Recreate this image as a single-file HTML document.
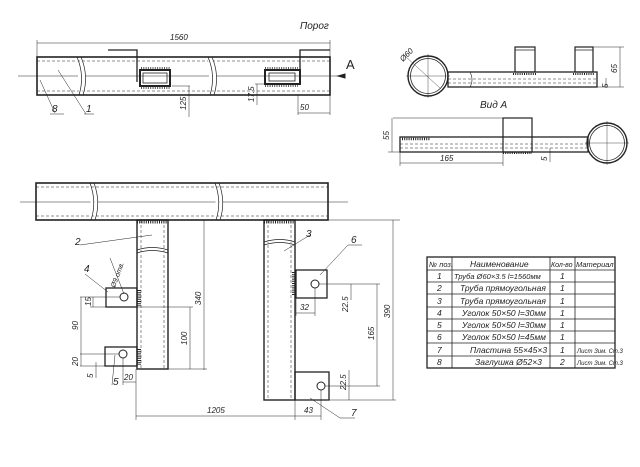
<!DOCTYPE html>
<html><head><meta charset="utf-8"><style>
html,body{margin:0;padding:0;background:#fff;}
svg{display:block;}
text{font-family:"Liberation Sans",sans-serif;font-style:italic;fill:#222;}
</style></head><body>
<svg width="640" height="467" viewBox="0 0 640 467" xmlns="http://www.w3.org/2000/svg">
<g stroke="#222" fill="none" stroke-width="1">
<!-- TOP VIEW -->
<rect x="37" y="57" width="293" height="38" stroke-width="1.6"/>
<line x1="37" y1="61" x2="330" y2="61" stroke-dasharray="3,2" stroke-width="0.6"/>
<line x1="37" y1="91" x2="330" y2="91" stroke-dasharray="3,2" stroke-width="0.6"/>
<line x1="18" y1="76" x2="345" y2="76" stroke-width="0.5"/>
<path d="M77 57 Q85 76 79 95 M81 57 Q89 76 83 95" stroke-width="0.7" fill="#fff"/>
<path d="M208 57 Q216 76 210 95 M212 57 Q220 76 214 95" stroke-width="0.7" fill="#fff"/>
<line x1="37" y1="43" x2="330" y2="43" stroke-width="0.6"/>
<line x1="37" y1="40" x2="37" y2="57" stroke-width="0.5"/>
<line x1="330" y1="40" x2="330" y2="57" stroke-width="0.5"/>
<path d="M108 50 H137 V82" stroke-width="1.3"/>
<rect x="140" y="70" width="30" height="16" stroke-width="2"/>
<rect x="143" y="73" width="24" height="10" stroke-width="0.8"/>
<path d="M141 68 H170 M141 88 H170" stroke-width="1.5" stroke-dasharray="1,1.3"/>
<path d="M330 50 H300 V72" stroke-width="1.3"/>
<rect x="265" y="70" width="35" height="14" stroke-width="2"/>
<rect x="269" y="73" width="26" height="8" stroke-width="0.8"/>
<path d="M265 68 H298 M265 86 H298" stroke-width="1.5" stroke-dasharray="1,1.3"/>
<line x1="172" y1="86" x2="190" y2="86" stroke-width="0.5"/>
<line x1="189" y1="86" x2="189" y2="117" stroke-width="0.5"/>
<line x1="255" y1="84" x2="266" y2="84" stroke-width="0.5"/>
<line x1="257" y1="84" x2="257" y2="105" stroke-width="0.5"/>
<line x1="298" y1="95" x2="298" y2="115" stroke-width="0.5"/>
<line x1="298" y1="113" x2="330" y2="113" stroke-width="0.5"/>
<line x1="330" y1="95" x2="330" y2="115" stroke-width="0.5"/>
<line x1="40" y1="80" x2="55" y2="113" stroke-width="0.5"/>
<line x1="50" y1="114" x2="64" y2="114" stroke-width="0.5"/>
<line x1="58" y1="70" x2="86" y2="114" stroke-width="0.5"/>
<line x1="84" y1="114" x2="94" y2="114" stroke-width="0.5"/>
<path d="M338 76 L345 74 L345 78 Z" fill="#222"/>

<!-- SIDE VIEW (top right) -->
<circle cx="428" cy="76" r="20" stroke-width="1.4"/>
<circle cx="428" cy="76" r="17.5" stroke-width="0.8"/>
<line x1="406" y1="76" x2="450" y2="76" stroke-width="0.4"/>
<line x1="428" y1="54" x2="428" y2="98" stroke-width="0.4"/>
<line x1="405" y1="56" x2="440" y2="88" stroke-width="0.4"/>
<rect x="448" y="72" width="149" height="15" stroke-width="1.3"/>
<line x1="448" y1="79" x2="597" y2="79" stroke-dasharray="3,2" stroke-width="0.5"/>
<line x1="448" y1="83" x2="597" y2="83" stroke-dasharray="3,2" stroke-width="0.5"/>
<path d="M470 72 Q474 80 470 87" stroke-width="0.6"/>
<rect x="515" y="47" width="20" height="25" stroke-width="1.2"/>
<rect x="575" y="47" width="18" height="25" stroke-width="1.2"/>
<line x1="515" y1="50" x2="535" y2="50" stroke-width="0.8"/>
<line x1="575" y1="50" x2="593" y2="50" stroke-width="0.8"/>
<path d="M513 74 H537 M573 74 H595" stroke-width="2" stroke-dasharray="1,1.2"/>
<line x1="593" y1="47" x2="624" y2="47" stroke-width="0.5"/>
<line x1="597" y1="87" x2="624" y2="87" stroke-width="0.5"/>
<line x1="620" y1="47" x2="620" y2="87" stroke-width="0.5"/>
<line x1="606" y1="78" x2="606" y2="88" stroke-width="0.5"/>

<!-- VIEW A -->
<circle cx="607" cy="143" r="20" stroke-width="1.4"/>
<circle cx="607" cy="143" r="17.5" stroke-width="0.8"/>
<line x1="585" y1="143" x2="629" y2="143" stroke-width="0.4"/>
<line x1="607" y1="121" x2="607" y2="165" stroke-width="0.4"/>
<rect x="400" y="137" width="188" height="15" stroke-width="1.3"/>
<line x1="400" y1="144" x2="588" y2="144" stroke-dasharray="3,2" stroke-width="0.5"/>
<line x1="400" y1="148" x2="588" y2="148" stroke-dasharray="3,2" stroke-width="0.5"/>
<rect x="503" y="118" width="29" height="34" stroke-width="1.2"/>
<path d="M402 139 H430" stroke-width="2.5" stroke-dasharray="1,1.2"/>
<path d="M503 153 H532" stroke-width="2" stroke-dasharray="1,1.2"/>
<line x1="393" y1="118" x2="503" y2="118" stroke-width="0.5"/>
<line x1="392" y1="118" x2="392" y2="152" stroke-width="0.5"/>
<line x1="388" y1="152" x2="400" y2="152" stroke-width="0.5"/>
<line x1="400" y1="152" x2="400" y2="166" stroke-width="0.5"/>
<line x1="503" y1="152" x2="503" y2="166" stroke-width="0.5"/>
<line x1="400" y1="163" x2="503" y2="163" stroke-width="0.5"/>
<line x1="550" y1="148" x2="550" y2="162" stroke-width="0.5"/>

<!-- MAIN VIEW -->
<rect x="36" y="183" width="292" height="37" stroke-width="1.6"/>
<line x1="36" y1="187" x2="328" y2="187" stroke-dasharray="3,2" stroke-width="0.6"/>
<line x1="36" y1="216" x2="328" y2="216" stroke-dasharray="3,2" stroke-width="0.6"/>
<line x1="20" y1="202" x2="348" y2="202" stroke-width="0.5"/>
<path d="M90 183 Q97 202 91 220 M94 183 Q101 202 95 220" stroke-width="0.7" fill="#fff"/>
<path d="M215 183 Q222 202 216 220 M219 183 Q226 202 220 220" stroke-width="0.7" fill="#fff"/>
<rect x="137" y="220" width="31" height="149" stroke-width="1.4"/>
<line x1="141" y1="220" x2="141" y2="369" stroke-dasharray="3,2" stroke-width="0.5"/>
<line x1="164" y1="220" x2="164" y2="369" stroke-dasharray="3,2" stroke-width="0.5"/>
<path d="M137 250 Q152 245 168 250 M137 253 Q152 248 168 253" stroke-width="0.7" fill="#fff"/>
<path d="M137 222 H168" stroke-width="3" stroke-dasharray="1,1.2"/>
<rect x="264" y="220" width="31" height="180" stroke-width="1.4"/>
<line x1="268" y1="220" x2="268" y2="400" stroke-dasharray="3,2" stroke-width="0.5"/>
<line x1="291" y1="220" x2="291" y2="400" stroke-dasharray="3,2" stroke-width="0.5"/>
<path d="M264 242 Q280 237 295 242 M264 245 Q280 240 295 245" stroke-width="0.7" fill="#fff"/>
<path d="M264 222 H295" stroke-width="3" stroke-dasharray="1,1.2"/>
<rect x="106" y="288" width="31" height="19" stroke-width="1.3"/>
<circle cx="124" cy="297" r="4"/>
<path d="M139 290 V306" stroke-width="4" stroke-dasharray="1,1.2"/>
<rect x="105" y="347" width="32" height="19" stroke-width="1.3"/>
<circle cx="123" cy="354" r="4"/>
<path d="M139 349 V365" stroke-width="4" stroke-dasharray="1,1.2"/>
<rect x="296" y="270" width="31" height="28" stroke-width="1.3"/>
<circle cx="315" cy="284" r="4"/>
<path d="M294 272 V296" stroke-width="4" stroke-dasharray="1,1.2"/>
<rect x="295" y="372" width="34" height="28" stroke-width="1.3"/>
<circle cx="321" cy="386" r="4"/>
<!-- dims main -->
<g stroke-width="0.5">
<line x1="168" y1="220" x2="400" y2="220"/>
<line x1="204" y1="220" x2="204" y2="370"/>
<line x1="168" y1="369" x2="207" y2="369"/>
<line x1="137" y1="307" x2="193" y2="307"/>
<line x1="190" y1="307" x2="190" y2="369"/>
<line x1="393" y1="220" x2="393" y2="400"/>
<line x1="329" y1="400" x2="396" y2="400"/>
<line x1="319" y1="284" x2="380" y2="284"/>
<line x1="377" y1="284" x2="377" y2="386"/>
<line x1="325" y1="386" x2="380" y2="386"/>
<line x1="351" y1="284" x2="351" y2="300"/>
<line x1="349" y1="370" x2="349" y2="400"/>
<line x1="136" y1="369" x2="136" y2="420"/>
<line x1="295" y1="400" x2="295" y2="420"/>
<line x1="321" y1="390" x2="321" y2="420"/>
<line x1="136" y1="416" x2="321" y2="416"/>
<line x1="296" y1="298" x2="296" y2="316"/>
<line x1="315" y1="288" x2="315" y2="316"/>
<line x1="296" y1="313" x2="315" y2="313"/>
<line x1="80" y1="297" x2="120" y2="297"/>
<line x1="81" y1="297" x2="81" y2="366"/>
<line x1="80" y1="354" x2="119" y2="354"/>
<line x1="80" y1="366" x2="105" y2="366"/>
<line x1="93" y1="297" x2="93" y2="307"/>
<line x1="90" y1="307" x2="106" y2="307"/>
<line x1="96" y1="362" x2="96" y2="378"/>
<line x1="123" y1="358" x2="123" y2="385"/>
<line x1="123" y1="382" x2="136" y2="382"/>
<line x1="115" y1="355" x2="112" y2="385"/>
<line x1="80" y1="245" x2="152" y2="235"/>
<line x1="284" y1="251" x2="310" y2="235"/>
<line x1="320" y1="275" x2="348" y2="245"/>
<line x1="348" y1="245" x2="362" y2="245"/>
<line x1="85" y1="274" x2="108" y2="292"/>
<line x1="110" y1="258" x2="124" y2="294"/>
<line x1="310" y1="398" x2="340" y2="418"/>
<line x1="340" y1="418" x2="355" y2="418"/>
</g>
<!-- table -->
<rect x="427" y="257" width="188" height="111" stroke-width="1.3"/>
<g stroke-width="0.8">
<line x1="452" y1="257" x2="452" y2="368"/>
<line x1="550" y1="257" x2="550" y2="368"/>
<line x1="575" y1="257" x2="575" y2="368"/>
<line x1="427" y1="270" x2="615" y2="270"/>
<line x1="427" y1="282" x2="615" y2="282"/>
<line x1="427" y1="294" x2="615" y2="294"/>
<line x1="427" y1="307" x2="615" y2="307"/>
<line x1="427" y1="319" x2="615" y2="319"/>
<line x1="427" y1="331" x2="615" y2="331"/>
<line x1="427" y1="343" x2="615" y2="343"/>
<line x1="427" y1="356" x2="615" y2="356"/>
</g>
</g>
<g font-size="8">
<text x="300" y="29" font-size="10">Порог</text>
<text x="170" y="40">1560</text>
<text x="346" y="69" font-size="13" style="font-style:normal">A</text>
<text x="52" y="112" font-size="10">8</text>
<text x="86" y="112" font-size="10">1</text>
<text x="300" y="110">50</text>
<text transform="translate(186,110) rotate(-90)">125</text>
<text transform="translate(254,102) rotate(-90)">17.5</text>
<text transform="translate(403,62) rotate(-45)">Ø60</text>
<text x="480" y="108" font-size="10">Вид А</text>
<text transform="translate(617,73) rotate(-90)">65</text>
<text transform="translate(608,88) rotate(-90)">5</text>
<text transform="translate(389,140) rotate(-90)">55</text>
<text x="440" y="161">165</text>
<text transform="translate(547,161) rotate(-90)">5</text>
<text x="75" y="245" font-size="10">2</text>
<text x="306" y="237" font-size="10">3</text>
<text x="351" y="243" font-size="10">6</text>
<text x="84" y="272" font-size="10">4</text>
<text x="113" y="385" font-size="10">5</text>
<text x="351" y="416" font-size="10">7</text>
<text transform="translate(115,288) rotate(-70)" font-size="7">Ø9 отв.</text>
<text transform="translate(201,305) rotate(-90)">340</text>
<text transform="translate(187,345) rotate(-90)">100</text>
<text transform="translate(390,318) rotate(-90)">390</text>
<text transform="translate(374,340) rotate(-90)">165</text>
<text transform="translate(348,312) rotate(-90)">22.5</text>
<text transform="translate(346,390) rotate(-90)">22.5</text>
<text x="207" y="413">1205</text>
<text x="304" y="413">43</text>
<text x="300" y="310">32</text>
<text transform="translate(78,330) rotate(-90)">90</text>
<text transform="translate(91,306) rotate(-90)">15</text>
<text transform="translate(78,366) rotate(-90)">20</text>
<text transform="translate(93,378) rotate(-90)">5</text>
<text x="124" y="380">20</text>
</g>
<g font-size="8.5">
<text x="429" y="267" font-size="7.5">№ поз.</text>
<text x="470" y="267">Наименование</text>
<text x="551" y="267" font-size="7">Кол-во</text>
<text x="576" y="267" font-size="7.5">Материал</text>
<text x="437" y="279">1</text><text x="454" y="279" font-size="7.5">Труба Ø60×3.5 l=1560мм</text><text x="560" y="279">1</text>
<text x="437" y="291">2</text><text x="460" y="291">Труба прямоугольная</text><text x="560" y="291">1</text>
<text x="437" y="304">3</text><text x="460" y="304">Труба прямоугольная</text><text x="560" y="304">1</text>
<text x="437" y="316">4</text><text x="462" y="316">Уголок 50×50 l=30мм</text><text x="560" y="316">1</text>
<text x="437" y="328">5</text><text x="462" y="328">Уголок 50×50 l=30мм</text><text x="560" y="328">1</text>
<text x="437" y="340">6</text><text x="462" y="340">Уголок 50×50 l=45мм</text><text x="560" y="340">1</text>
<text x="437" y="353">7</text><text x="470" y="353">Пластина 55×45×3</text><text x="560" y="353">1</text><text x="577" y="353" font-size="6">Лист Зим. Ст.3</text>
<text x="437" y="365">8</text><text x="475" y="365">Заглушка Ø52×3</text><text x="560" y="365">2</text><text x="577" y="365" font-size="6">Лист Зим. Ст.3</text>
</g>
</svg>
</body></html>
